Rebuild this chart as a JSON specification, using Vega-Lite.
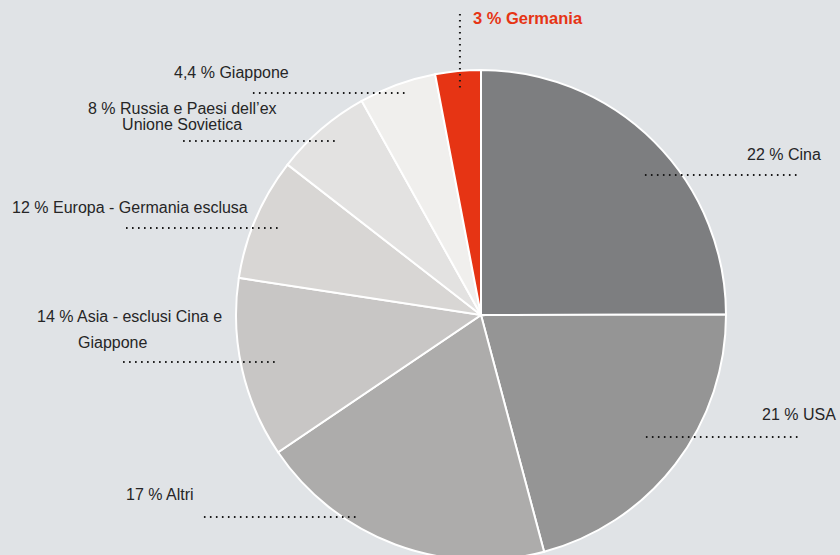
{
  "$schema": "https://vega.github.io/schema/vega-lite/v6.json",
  "width": 840,
  "height": 555,
  "autosize": {"type": "none"},
  "padding": 0,
  "background": "#e0e3e6",
  "view": {"stroke": null},
  "config": {"text": {"font": "Liberation Sans"}},
  "datasets": {
    "slices": [
      {"region": "Cina", "share": 25.0, "order": 1},
      {"region": "USA", "share": 20.9, "order": 2},
      {"region": "Altri", "share": 19.7, "order": 3},
      {"region": "Asia", "share": 11.9, "order": 4},
      {"region": "Europa", "share": 8.1, "order": 5},
      {"region": "Russia", "share": 6.4, "order": 6},
      {"region": "Giappone", "share": 5.1, "order": 7},
      {"region": "Germania", "share": 3.0, "order": 8}
    ],
    "labels": [
      {"region": "Cina", "text": "22 % Cina", "lx": 108.6, "ly": 65.3},
      {"region": "USA", "text": "21 % USA", "lx": 114.7, "ly": -40.8},
      {"region": "Altri", "text": "17 % Altri", "lx": -144.9, "ly": -73.5},
      {"region": "Asia", "text": "14 % Asia - esclusi Cina e", "lx": -181.2, "ly": -0.8},
      {"region": "Asia", "text": "Giappone", "lx": -164.5, "ly": -11.4},
      {"region": "Europa", "text": "12 % Europa - Germania esclusa", "lx": -191.4, "ly": 43.7},
      {"region": "Russia", "text": "8 % Russia e Paesi dell’ex", "lx": -160.4, "ly": 84.1},
      {"region": "Russia", "text": "Unione Sovietica", "lx": -146.5, "ly": 77.6},
      {"region": "Giappone", "text": "4,4 % Giappone", "lx": -125.3, "ly": 98.8},
      {"region": "Germania", "text": "3 % Germania", "lx": -3.3, "ly": 120.8}
    ],
    "leaders": [
      {"region": "Cina", "x1": 66.9, "x2": 130.2, "y1": 57.1, "y2": 57.1},
      {"region": "USA", "x1": 67.3, "x2": 130.2, "y1": -49.8, "y2": -49.8},
      {"region": "Altri", "x1": -113.1, "x2": -50.2, "y1": -82.4, "y2": -82.4},
      {"region": "Asia", "x1": -146.1, "x2": -83.3, "y1": -19.2, "y2": -19.2},
      {"region": "Europa", "x1": -144.9, "x2": -82.0, "y1": 35.5, "y2": 35.5},
      {"region": "Russia", "x1": -121.6, "x2": -58.8, "y1": 71.0, "y2": 71.0},
      {"region": "Giappone", "x1": -93.1, "x2": -29.8, "y1": 90.6, "y2": 90.6},
      {"region": "Germania", "x1": -8.6, "x2": -8.6, "y1": 122.9, "y2": 91.4}
    ]
  },
  "layer": [
    {
      "data": {"name": "slices"},
      "mark": {"type": "arc", "outerRadius": 245, "stroke": "#ffffff", "strokeWidth": 2},
      "encoding": {
        "x": {"datum": 0, "type": "quantitative", "scale": {"domain": [-196.33, 146.53], "nice": false, "zero": false}, "axis": null},
        "y": {"datum": 0, "type": "quantitative", "scale": {"domain": [-97.96, 128.57], "nice": false, "zero": false}, "axis": null},
        "theta": {"field": "share", "type": "quantitative", "stack": true},
        "order": {"field": "order", "type": "quantitative"},
        "color": {
          "field": "region",
          "type": "nominal",
          "legend": null,
          "scale": {
            "domain": ["Cina", "USA", "Altri", "Asia", "Europa", "Russia", "Giappone", "Germania"],
            "range": ["#7d7e80", "#959595", "#adacab", "#c8c6c5", "#d8d6d4", "#e3e2e1", "#f0efed", "#e63414"]
          }
        }
      }
    },
    {
      "data": {"name": "leaders"},
      "mark": {"type": "rule", "color": "#1a1a1a", "strokeWidth": 2, "strokeDash": [1.6, 4.4]},
      "encoding": {
        "x": {"field": "x1", "type": "quantitative"},
        "x2": {"field": "x2"},
        "y": {"field": "y1", "type": "quantitative"},
        "y2": {"field": "y2"}
      }
    },
    {
      "data": {"name": "labels"},
      "transform": [{"filter": "datum.region !== 'Germania'"}],
      "mark": {"type": "text", "align": "left", "baseline": "middle", "fontSize": 16, "color": "#262626"},
      "encoding": {
        "x": {"field": "lx", "type": "quantitative"},
        "y": {"field": "ly", "type": "quantitative"},
        "text": {"field": "text"}
      }
    },
    {
      "data": {"name": "labels"},
      "transform": [{"filter": "datum.region === 'Germania'"}],
      "mark": {"type": "text", "align": "left", "baseline": "middle", "fontSize": 16.5, "fontWeight": "bold", "color": "#e63414"},
      "encoding": {
        "x": {"field": "lx", "type": "quantitative"},
        "y": {"field": "ly", "type": "quantitative"},
        "text": {"field": "text"}
      }
    }
  ]
}
